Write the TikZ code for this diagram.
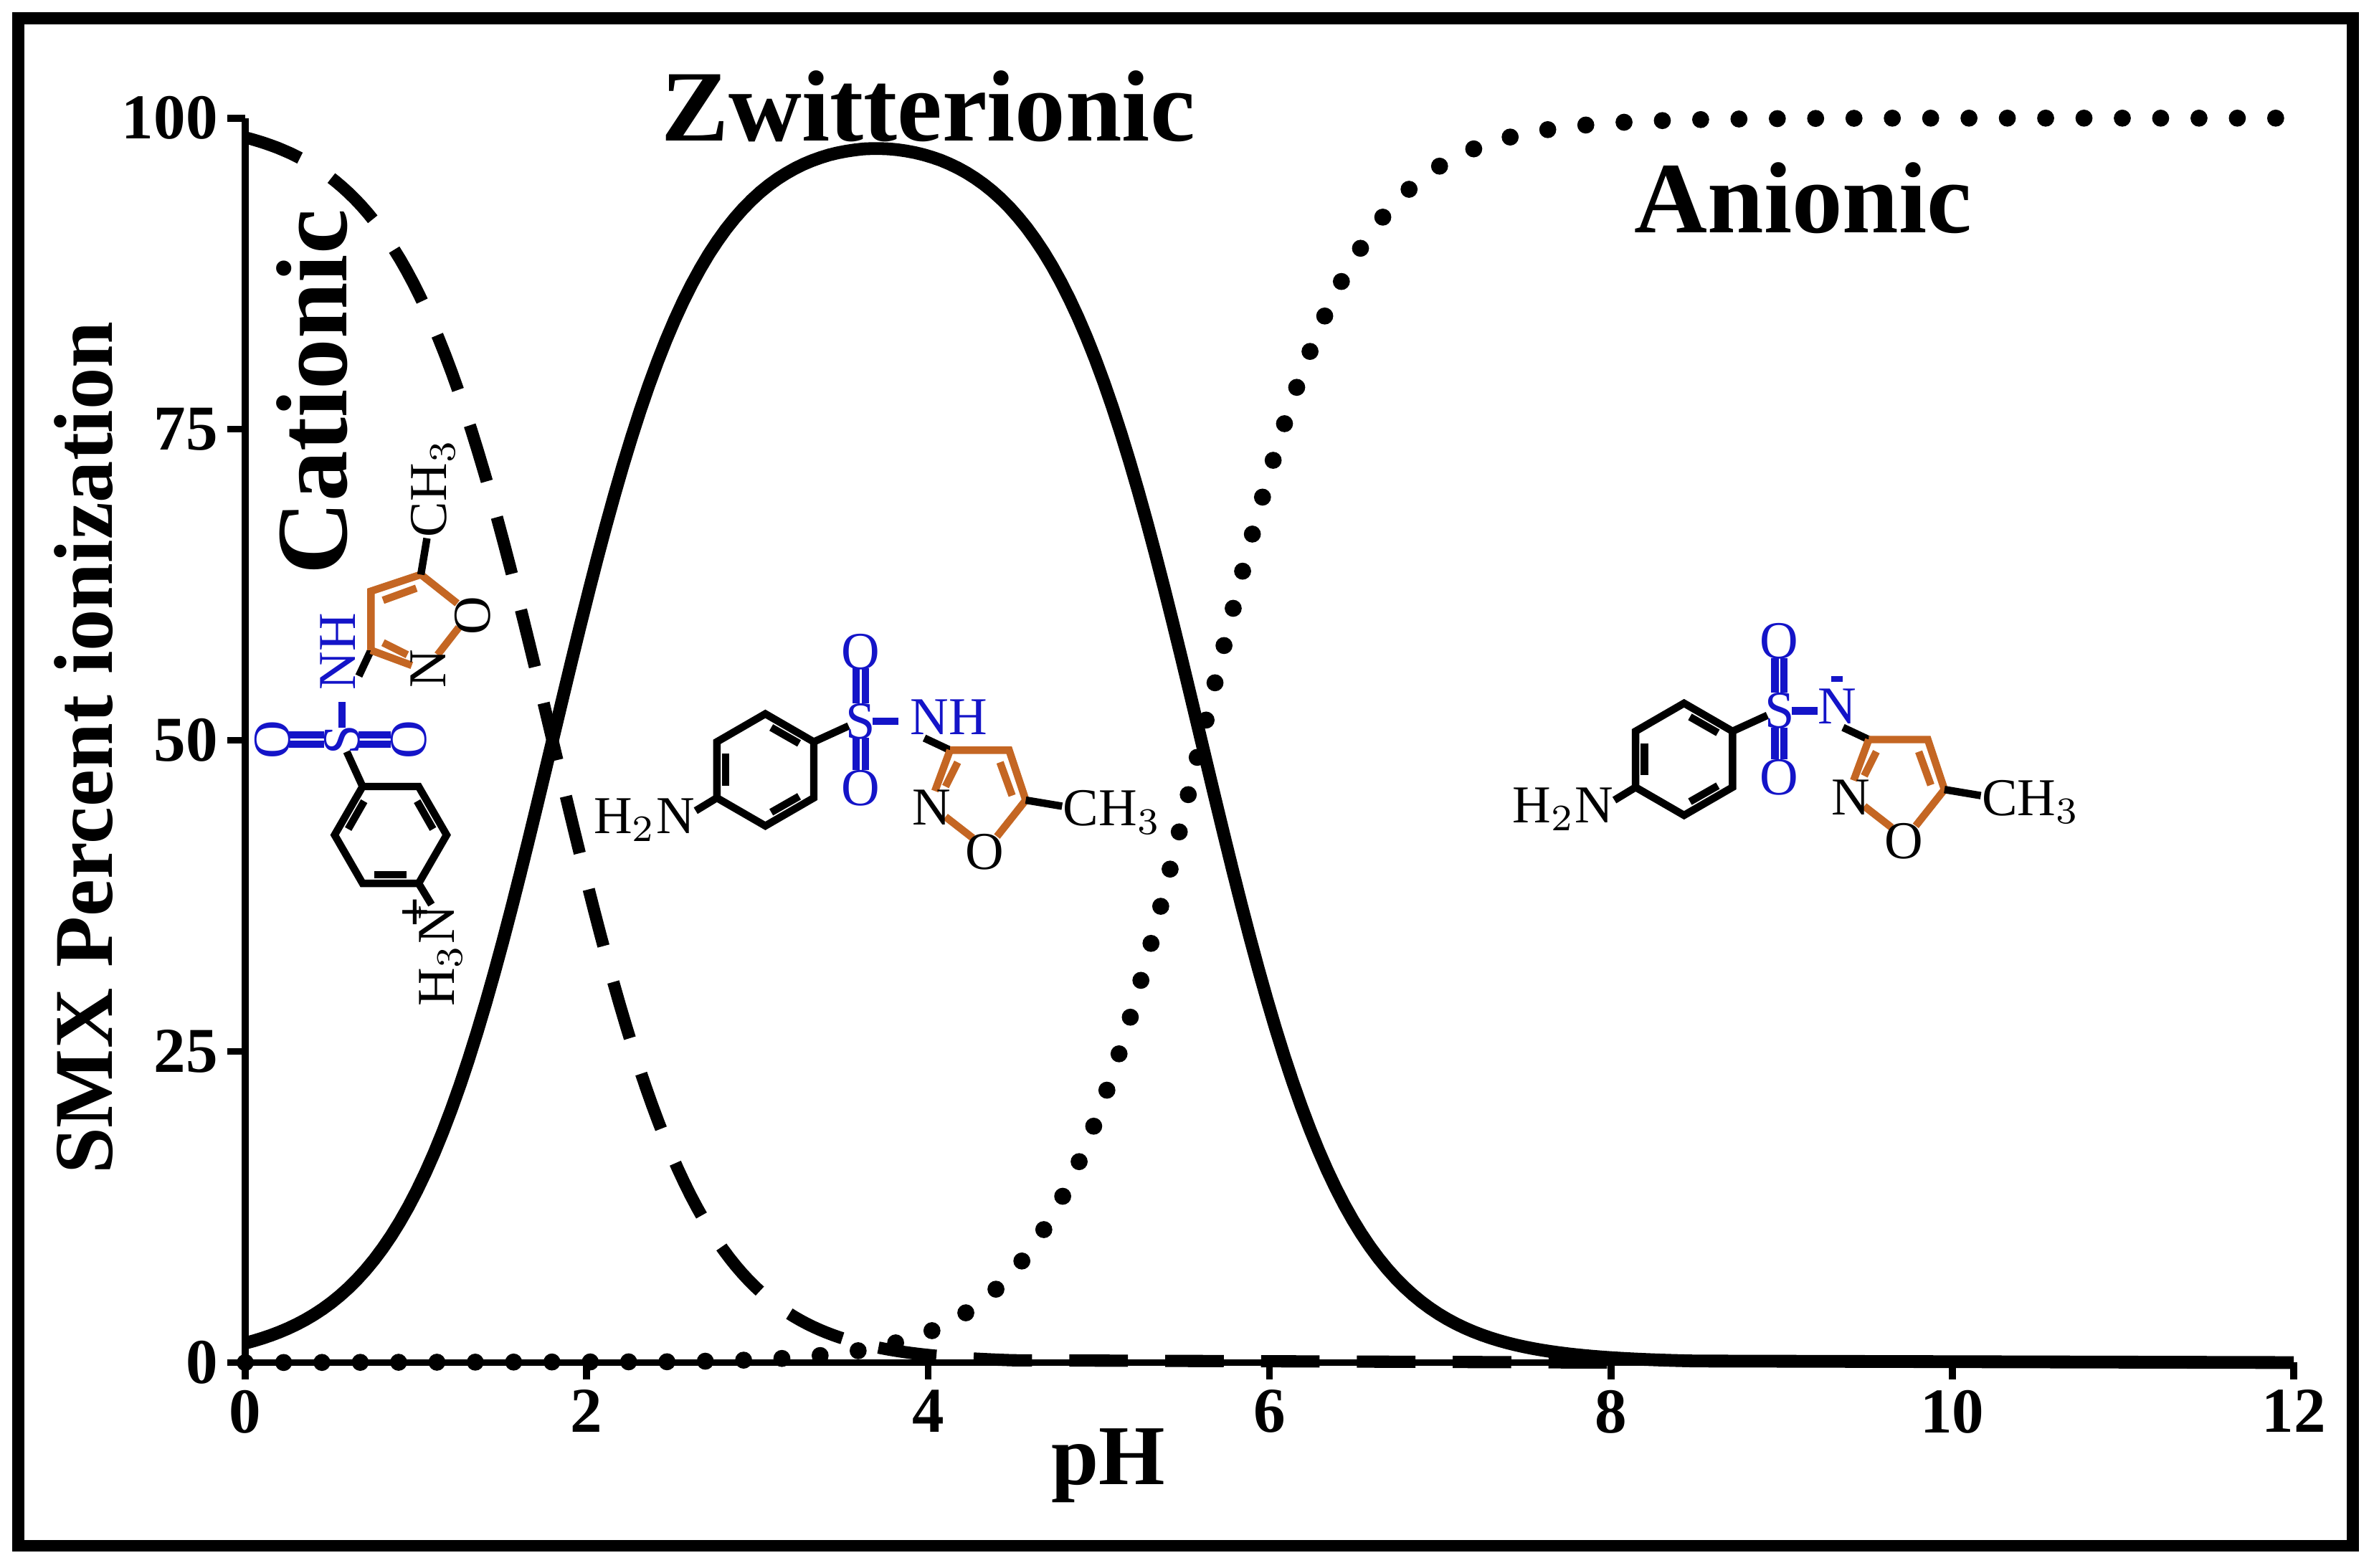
\documentclass[tikz,border=0pt]{standalone}
\usepackage{fontspec}
\setmainfont{Liberation Serif}
\definecolor{sblue}{RGB}{20,20,200}
\definecolor{oran}{RGB}{196,102,35}
\tikzset{
 atom/.style={font=\fontsize{10}{11}\selectfont, inner sep=0.3pt},
 batom/.style={atom, text=sblue},
 bond/.style={line width=1.4pt},
 obond/.style={bond, draw=oran},
 bbond/.style={bond, draw=sblue},
 big/.style={font=\fontsize{19}{22}\selectfont\bfseries, inner sep=0pt},
 tick/.style={font=\fontsize{12}{14}\selectfont\bfseries, inner sep=1pt},
 curve/.style={line width=2.4pt},
 dashcurve/.style={line width=2.3pt, dash pattern=on 11pt off 7pt},
 dotcurve/.style={line width=3.2pt, line cap=round, dash pattern=on 0pt off 7.2pt},
}
\newcommand\smxcore{%
 \draw[bond] (0,-37)--(32,-18.5)--(32,18.5)--(0,37)--(-32,18.5)--(-32,-18.5)--cycle;
 \draw[bond] (3.9,-28)--(22.3,-17.5);
 \draw[bond] (-26.2,-10.6)--(-26.2,10.6);
 \draw[bond] (22.3,17.5)--(3.9,28);
 \draw[bond] (32,-18.5)--(55,-29);
 \node[batom] (S) at (63,-32) {S};
 \node[batom] (O1) at (63,-78) {O};
 \node[batom] (O2) at (63,12) {O};
 \draw[bbond] (60,-67)--(60,-44) (66,-67)--(66,-44);
 \draw[bbond] (60,-21)--(60,0) (66,-21)--(66,0);
 \draw[bbond] (71,-32)--(88,-32);
 \draw[bond] (105,-21)--(122,-13);
 \draw[obond] (122,-13)--(161,-13)--(172,20)--(153,44);
 \draw[obond] (137,45)--(119,31);
 \draw[obond] (112,14)--(122,-13);
 \draw[obond] (155,-5)--(163,17);
 \draw[obond] (119,11)--(127,-5);
 \node[atom] (Ni) at (110,25) {N};
 \node[atom] (Oi) at (145,54) {O};
 \draw[bond] (172,20)--(196,24);
 \node[atom, anchor=west] (Me) at (195,28) {CH$_3$};
}
\begin{document}
\begin{tikzpicture}[x=0.01cm, y=-0.01cm]
\useasboundingbox (0,0) rectangle (1568,1035.6);
\draw[line width=2.2pt] (12,12) rectangle (1554,1021);
% axes
\coordinate (O) at (162,900);
\coordinate (XE) at (1515,900);
\coordinate (YE) at (162,78);
\draw[line width=1.3pt] (YE) -- (O) -- (XE);
\foreach \i in {0,2,...,12} {
 \draw[line width=1.3pt] ({162+112.75*\i},900) -- ({162+112.75*\i},911);
 \node[tick, anchor=north] (xt\i) at ({162+112.75*\i},914) {\i};
}
\foreach \v in {0,25,50,75,100} {
 \draw[line width=1.3pt] (150,{900-8.22*\v}) -- (162,{900-8.22*\v});
 \node[tick, anchor=east] (yt\v) at (148,{900-8.22*\v}) {\v};
}
\node[font=\fontsize{16}{18}\selectfont\bfseries] (xl) at (732,968) {pH};
\node[font=\fontsize{15.7}{18}\selectfont\bfseries, rotate=90] (yl) at (55,494) {SMX Percent ionization};
% curves
\draw[dashcurve] plot[domain=0:4.5, samples=120] ({162+112.75*\x},{900-822/(1+10^(\x-1.8)+10^(2*\x-7.4))}) -- ({162+112.75*8},900);
\draw[curve] plot[domain=0:8.5, samples=170] ({162+112.75*\x},{900-822/(10^(1.8-\x)+1+10^(\x-5.6))}) -- (XE);
\draw[dotcurve] (O) -- plot[domain=2.5:12, samples=200] ({162+112.75*\x},{900-822/(10^(7.4-2*\x)+10^(5.6-\x)+1)});
% labels
\node[big] (zw) at (613,70) {Zwitterionic};
\node[big] (an) at (1191,131) {Anionic};
\node[big, rotate=90] (cat) at (206,259) {Cationic};
% middle molecule
\begin{scope}[shift={(505.5,508.5)}, name prefix=m-]
 \smxcore
 \node[atom, anchor=east] (am) at (-45,33) {H$_2$N};
 \draw[bond] (-32,18.5)--(-46,27);
 \node[batom, anchor=west] (N) at (94,-35) {NH};
\end{scope}
% anionic molecule
\begin{scope}[shift={(1112.3,501.5)}, name prefix=a-]
 \smxcore
 \node[atom, anchor=east] (am) at (-45,33) {H$_2$N};
 \draw[bond] (-32,18.5)--(-46,27);
 \node[batom] (N) at (101,-35) {N};
 \draw[bbond, line width=1.1pt] (97,-53)--(105,-53);
\end{scope}
% cationic molecule
\begin{scope}[shift={(258,551.5)}, rotate=90, transform shape, name prefix=c-]
 \smxcore
 \node[atom, anchor=east] (am) at (-45,33) {H$_3$N};
 \node[atom] (pl) at (-51,18) {\textbf{+}};
 \draw[bond] (-32,18.5)--(-46,27);
 \node[batom, anchor=west] (N) at (94,-35) {NH};
\end{scope}
\end{tikzpicture}
\end{document}
